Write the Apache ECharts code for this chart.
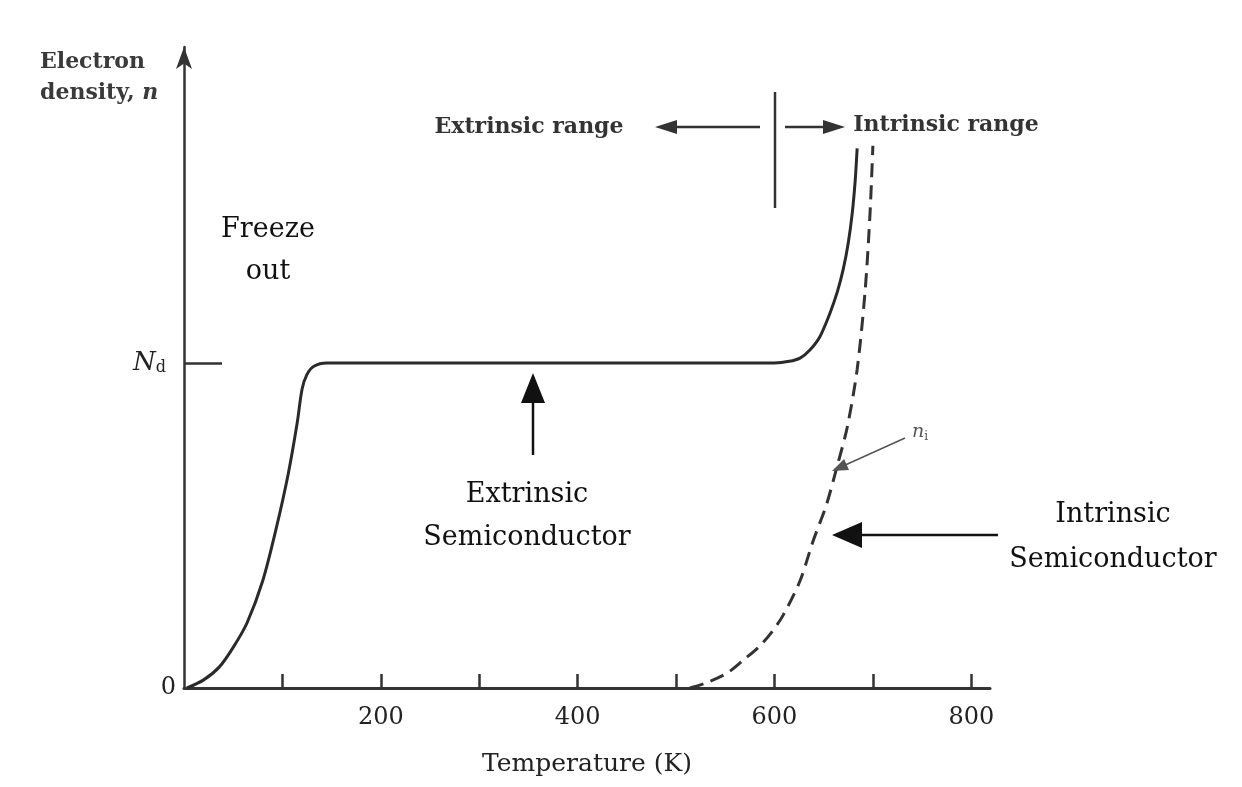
<!DOCTYPE html>
<html>
<head>
<meta charset="utf-8">
<script src="https://cdn.jsdelivr.net/npm/echarts@6/dist/echarts.min.js"></script>
<style>
html, body { margin: 0; padding: 0; background: #fff; }
#main { width: 1242px; height: 787px; }
</style>
</head>
<body>
<div id="main"></div>
<script>
// solid curve: electron density of the doped semiconductor (n / Nd)
var tempSolid = [3, 20, 36, 50, 64, 80, 94, 106, 115, 120, 125, 132, 145, 300, 450, 600, 615, 626, 636, 646, 656, 664, 670, 675, 679, 682, 684];
var nSolid = [0, 0.025, 0.065, 0.125, 0.2, 0.33, 0.495, 0.66, 0.815, 0.92, 0.965, 0.99, 1.0, 1.0, 1.0, 1.0, 1.005, 1.015, 1.04, 1.08, 1.15, 1.22, 1.29, 1.37, 1.46, 1.56, 1.66];
// dashed curve: intrinsic carrier density n_i
var tempIntrinsic = [514, 530, 552, 570, 585, 598, 609, 626, 639, 653, 664, 674, 684, 692, 697, 700];
var nIntrinsic = [0, 0.015, 0.046, 0.09, 0.129, 0.175, 0.225, 0.33, 0.45, 0.566, 0.686, 0.803, 0.98, 1.218, 1.455, 1.668];

var xTicks = [100, 200, 300, 400, 500, 600, 700, 800];
var xLabels = [200, 400, 600, 800];
var yMarks = [0, 1]; // 0 and N_d

var serif = '"DejaVu Serif", serif';
var ink = '#222';

function pairs(xs, ys) {
    var out = [];
    for (var i = 0; i < xs.length; i++) {
        out.push([xs[i], ys[i]]);
    }
    return out;
}

function arrow(x1, y1, x2, y2, len, half, w, color) {
    var dx = x2 - x1, dy = y2 - y1;
    var d = Math.sqrt(dx * dx + dy * dy);
    var ux = dx / d, uy = dy / d;
    var bx = x2 - ux * len, by = y2 - uy * len;
    return [
        {type: 'line', z: 50, shape: {x1: x1, y1: y1, x2: bx + ux * 2, y2: by + uy * 2},
            style: {stroke: color, lineWidth: w}},
        {type: 'polygon', z: 50, shape: {points: [[x2, y2], [bx - uy * half, by + ux * half], [bx + uy * half, by - ux * half]]},
            style: {fill: color}}
    ];
}

function label(text, x, y, size, color, extra) {
    var style = {
        text: text, x: x, y: y,
        fontSize: size, fontFamily: serif,
        fill: color, align: 'center', verticalAlign: 'middle'
    };
    for (var k in (extra || {})) style[k] = extra[k];
    return {type: 'text', z: 50, style: style};
}

var myChart = echarts.init(document.getElementById('main'));

var graphics = [
    label('Electron', 40, 62, 22, '#3a3a3a', {align: 'left', fontWeight: 'bold'}),
    label('density, {i|n}', 40, 93, 22, '#3a3a3a', {align: 'left', fontWeight: 'bold',
        rich: {i: {fontStyle: 'italic', fontWeight: 'bold', fontSize: 22, fontFamily: serif, fill: '#3a3a3a'}}}),
    label('Freeze', 268, 230, 27, '#111'),
    label('out', 268, 272, 27, '#111'),
    label('Extrinsic range', 529, 127, 22, '#333', {fontWeight: 'bold'}),
    label('Intrinsic range', 946, 125, 22, '#333', {fontWeight: 'bold'}),
    label('Extrinsic', 527, 495, 27, '#111'),
    label('Semiconductor', 527, 538, 27, '#111'),
    label('Intrinsic', 1113, 515, 27, '#111'),
    label('Semiconductor', 1113, 560, 27, '#111'),
    label('{n|n}{s|i}', 920, 432, 18, '#555', {
        rich: {
            n: {fontStyle: 'italic', fontSize: 19, fontFamily: serif, fill: '#555'},
            s: {fontSize: 12, fontFamily: serif, fill: '#555', padding: [10, 0, 0, 0]}
        }
    }),
    {type: 'line', z: 50, shape: {x1: 775, y1: 92, x2: 775, y2: 208}, style: {stroke: '#333', lineWidth: 2.5}}
];
graphics = graphics
    .concat(arrow(760, 127, 655, 127, 22, 7, 2.5, '#333'))
    .concat(arrow(785, 127, 845, 127, 22, 7, 2.5, '#333'))
    .concat(arrow(533, 455, 533, 373, 30, 12, 2.5, '#111'))
    .concat(arrow(998, 535, 832, 535, 30, 13, 2.5, '#111'))
    .concat(arrow(905, 438, 832, 471, 16, 6, 1.5, '#555'));

option = {
    backgroundColor: '#fff',
    animation: false,
    grid: {left: 184, right: 252, top: 47, bottom: 99},
    xAxis: {
        type: 'value',
        min: 0,
        max: 819,
        splitLine: {show: false},
        axisLine: {lineStyle: {color: '#333', width: 3}},
        axisTick: {
            customValues: xTicks,
            inside: true,
            length: 14,
            lineStyle: {color: '#333', width: 2.5}
        },
        axisLabel: {
            customValues: xLabels,
            margin: 18,
            fontSize: 24,
            fontFamily: serif,
            color: ink
        },
        name: 'Temperature (K)',
        nameLocation: 'middle',
        nameGap: 64,
        nameTextStyle: {fontSize: 25, fontFamily: serif, color: ink}
    },
    yAxis: {
        type: 'value',
        min: 0,
        max: 1.972,
        splitLine: {show: false},
        axisLine: {
            lineStyle: {color: '#333', width: 2.5},
            symbol: ['none', 'arrow'],
            symbolSize: [12, 22]
        },
        axisTick: {
            customValues: [1],
            inside: true,
            length: 38,
            lineStyle: {color: '#333', width: 2.5}
        },
        axisLabel: {
            customValues: yMarks,
            margin: 8,
            formatter: function (v) {
                return v === 1 ? '{n|N}{d|d}' : '{z|0}';
            },
            rich: {
                n: {fontStyle: 'italic', fontSize: 26, fontFamily: serif, color: ink},
                d: {fontSize: 16, fontFamily: serif, color: ink, padding: [10, 10, 0, 0]},
                z: {fontSize: 24, fontFamily: serif, color: ink}
            }
        }
    },
    graphic: graphics,
    series: [
        {
            name: 'n',
            type: 'line',
            data: pairs(tempSolid, nSolid),
            showSymbol: false,
            smooth: 0.3,
            lineStyle: {color: '#2a2a2a', width: 3}
        },
        {
            name: 'ni',
            type: 'line',
            data: pairs(tempIntrinsic, nIntrinsic),
            showSymbol: false,
            smooth: 0.3,
            lineStyle: {color: '#333', width: 3, type: [14, 8]}
        }
    ]
};

myChart.setOption(option);
</script>
</body>
</html>
